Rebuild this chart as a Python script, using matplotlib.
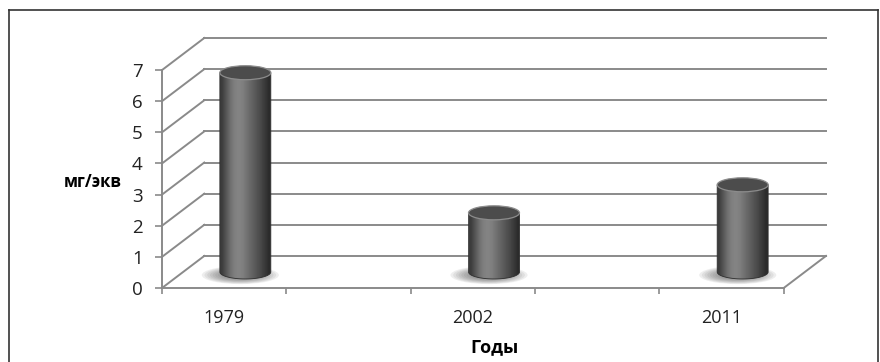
import numpy as np
import matplotlib
matplotlib.use('Agg')
import matplotlib.pyplot as plt
from matplotlib.patches import Ellipse, PathPatch
from matplotlib.path import Path
from matplotlib.lines import Line2D

plt.rcParams['font.family'] = ['Open Sans', 'DejaVu Sans']
plt.rcParams['text.color'] = '#222222'
plt.rcParams['xtick.labelcolor'] = '#222222'
plt.rcParams['ytick.labelcolor'] = '#222222'

# Data (empty slots between the years are part of the category axis)
categories = ['1979', '', '2002', '', '2011']
values = [6.4, np.nan, 1.9, np.nan, 2.8]
yticks = [0, 1, 2, 3, 4, 5, 6, 7]
xlabel = 'Годы'
ylabel = 'мг/экв'

# 3D look parameters (oblique projection in data units)
depth_x = 0.34
depth_y = 1.03
cyl_w = 0.41
ell_h = 0.45
line_col = '#8a8a8a'

fig = plt.figure(figsize=(8.8, 3.62), dpi=100)
ax = fig.add_axes([162/880, 74/362, 664/880, 250/362])
n = len(categories)
ymax = max(yticks)

# back wall grid lines and the left wall diagonals
for v in yticks:
    ax.plot([depth_x, n + depth_x], [v + depth_y, v + depth_y], color=line_col, lw=1.4, zorder=1, clip_on=False)
    ax.plot([0, depth_x], [v, v + depth_y], color=line_col, lw=1.4, zorder=1, clip_on=False)
# floor right edge
ax.plot([n, n + depth_x], [0, depth_y], color=line_col, lw=1.4, zorder=1, clip_on=False)

# cylinders
profile = np.array([0.24, 0.34, 0.44, 0.50, 0.52, 0.49, 0.44, 0.39, 0.34, 0.29, 0.23, 0.17])
for i, v in enumerate(values):
    if np.isnan(v):
        continue
    cx = i + 0.5 + depth_x / 2
    yb = depth_y / 2
    yt = v + depth_y / 2
    # soft shadow on the floor
    for k in range(8):
        s = 1.0 - k * 0.07
        ax.add_patch(Ellipse((cx - 0.04, yb - 0.1), 0.62 * s, 0.58 * s, color='#4a4a4a',
                             alpha=0.09, lw=0, zorder=2))
    # body outline: rectangle plus lower half of the base ellipse
    t = np.linspace(np.pi, 2 * np.pi, 40)
    verts = [(cx - cyl_w / 2, yt)]
    verts += list(zip(cx + cyl_w / 2 * np.cos(t), yb + ell_h / 2 * np.sin(t)))
    verts += [(cx + cyl_w / 2, yt), (cx - cyl_w / 2, yt)]
    codes = [Path.MOVETO] + [Path.LINETO] * (len(verts) - 2) + [Path.CLOSEPOLY]
    body = PathPatch(Path(verts, codes), facecolor='none', edgecolor='#2e2e2e', lw=0.6, zorder=4)
    ax.add_patch(body)
    im = ax.imshow(profile[np.newaxis, :], cmap='gray', vmin=0, vmax=1, aspect='auto',
                   interpolation='bilinear', extent=(cx - cyl_w / 2, cx + cyl_w / 2, yb - ell_h / 2, yt),
                   zorder=3)
    im.set_clip_path(body)
    # top cap
    ax.add_patch(Ellipse((cx, yt), cyl_w, ell_h, facecolor='#4c4c4c', edgecolor='#8c8c8c', lw=0.9, zorder=5))

ax.set_xlim(0, n + depth_x)
ax.set_ylim(0, ymax + depth_y)

for side in ['top', 'right']:
    ax.spines[side].set_visible(False)
for side in ['left', 'bottom']:
    ax.spines[side].set_color(line_col)
    ax.spines[side].set_linewidth(1.4)
ax.spines['left'].set_bounds(0, ymax)
ax.spines['bottom'].set_bounds(0, n)

ax.set_yticks(yticks)
ax.set_xticks(np.arange(n + 1))
ax.set_xticklabels([])
ax.set_xticks(np.arange(n) + 0.5, minor=True)
ax.set_xticklabels(categories, minor=True)
ax.tick_params(axis='y', direction='out', length=5, width=1.2, color=line_col, pad=9, labelsize=13.5)
ax.tick_params(axis='x', which='major', direction='out', length=4, width=1.2, color=line_col)
ax.tick_params(axis='x', which='minor', length=0, pad=15, labelsize=13)

ax.set_xlabel(xlabel, fontsize=13, fontweight='bold', labelpad=8)
ax.set_ylabel(ylabel, fontsize=12, fontweight='bold', rotation=0, ha='center', va='center')
ax.yaxis.set_label_coords(-0.105, 0.424)

# outer chart frame
for xs, ys in [([9/880, 878/880], [1 - 10/362, 1 - 10/362]),
               ([9/880, 9/880], [0, 1 - 10/362]),
               ([878/880, 878/880], [0, 1 - 10/362])]:
    fig.add_artist(Line2D(xs, ys, color='#333333', lw=1.2))

fig.savefig('out.png', dpi=100)
